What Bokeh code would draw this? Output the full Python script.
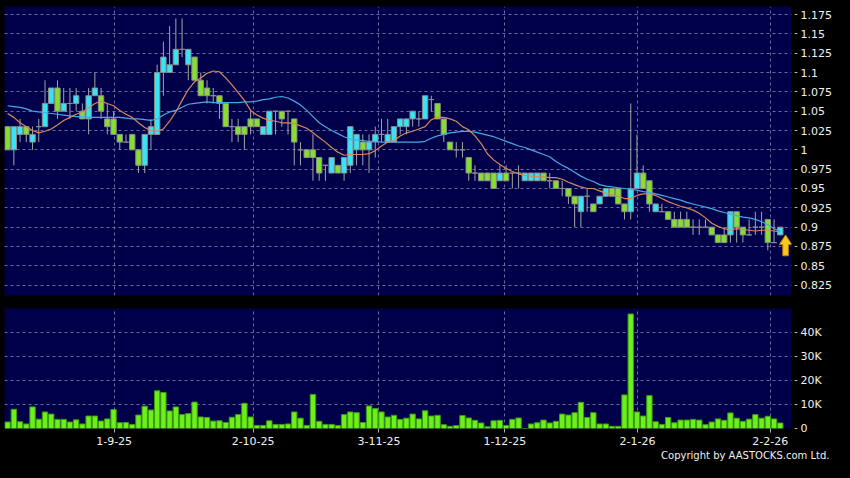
from bokeh.plotting import figure
from bokeh.layouts import column
from bokeh.models import ColumnDataSource, FixedTicker, Range1d, Title, GlobalInlineStyleSheet
from bokeh.embed import file_html
from bokeh.resources import INLINE

# ---------------- data ----------------
opens = [1.03, 1.00, 1.02, 1.03, 1.01, 1.03, 1.03, 1.06, 1.08, 1.05,
         1.06, 1.06, 1.05, 1.04, 1.07, 1.07, 1.04, 1.04, 1.02, 1.01,
         1.02, 1.00, 0.98, 1.02, 1.02, 1.10, 1.10, 1.11, 1.13, 1.11,
         1.12, 1.09, 1.08, 1.07, 1.07, 1.06, 1.03, 1.03, 1.03, 1.04,
         1.04, 1.02, 1.02, 1.05, 1.05, 1.05, 1.04, 1.00, 1.00, 1.00,
         0.99, 0.98, 0.97, 0.98, 0.97, 0.98, 1.00, 1.01, 1.00, 1.01,
         1.02, 1.01, 1.01, 1.03, 1.03, 1.04, 1.04, 1.04, 1.065, 1.06,
         1.04, 1.01, 1.00, 1.00, 0.99, 0.97, 0.97, 0.97, 0.97, 0.96,
         0.97, 0.97, 0.97, 0.96, 0.96, 0.96, 0.97, 0.96, 0.96, 0.95,
         0.95, 0.94, 0.92, 0.94, 0.93, 0.93, 0.94, 0.95, 0.95, 0.93,
         0.92, 0.95, 0.97, 0.96, 0.92, 0.92, 0.92, 0.91, 0.91, 0.91,
         0.90, 0.90, 0.90, 0.90, 0.89, 0.89, 0.89, 0.92, 0.90, 0.89,
         0.90, 0.90, 0.91, 0.88, 0.89]
highs = [1.03, 1.03, 1.04, 1.03, 1.03, 1.04, 1.09, 1.08, 1.09, 1.08,
         1.08, 1.08, 1.06, 1.08, 1.10, 1.08, 1.06, 1.05, 1.02, 1.02,
         1.02, 1.00, 1.02, 1.04, 1.11, 1.14, 1.16, 1.17, 1.17, 1.13,
         1.12, 1.10, 1.09, 1.08, 1.07, 1.06, 1.04, 1.04, 1.03, 1.05,
         1.04, 1.03, 1.05, 1.05, 1.05, 1.05, 1.04, 1.01, 1.00, 1.02,
         0.99, 0.98, 0.99, 0.98, 0.99, 1.03, 1.02, 1.02, 1.02, 1.03,
         1.04, 1.04, 1.03, 1.04, 1.04, 1.05, 1.05, 1.07, 1.07, 1.06,
         1.04, 1.01, 1.01, 1.01, 0.99, 0.98, 0.97, 0.97, 0.97, 0.98,
         0.98, 0.97, 0.98, 0.97, 0.97, 0.97, 0.97, 0.97, 0.96, 0.96,
         0.95, 0.94, 0.94, 0.95, 0.93, 0.94, 0.95, 0.95, 0.95, 0.93,
         1.06, 1.02, 0.98, 0.96, 0.93, 0.93, 0.92, 0.92, 0.92, 0.92,
         0.91, 0.91, 0.91, 0.90, 0.89, 0.90, 0.92, 0.92, 0.90, 0.91,
         0.92, 0.92, 0.91, 0.91, 0.90]
lows = [1.00, 0.98, 1.01, 1.01, 1.00, 1.01, 1.03, 1.06, 1.04, 1.05,
        1.04, 1.05, 1.04, 1.02, 1.07, 1.04, 1.02, 1.02, 1.00, 1.01,
        1.00, 0.97, 0.97, 1.00, 1.02, 1.07, 1.10, 1.11, 1.12, 1.09,
        1.09, 1.07, 1.06, 1.06, 1.04, 1.03, 1.01, 1.01, 1.00, 1.02,
        1.03, 1.02, 1.02, 1.02, 1.03, 1.02, 0.98, 0.98, 0.99, 0.96,
        0.96, 0.96, 0.97, 0.97, 0.96, 0.97, 0.98, 0.98, 0.97, 0.99,
        1.01, 1.01, 1.01, 1.02, 1.02, 1.03, 1.03, 1.04, 1.05, 1.04,
        1.01, 1.00, 0.99, 0.99, 0.96, 0.96, 0.96, 0.96, 0.95, 0.96,
        0.96, 0.95, 0.95, 0.96, 0.96, 0.96, 0.96, 0.95, 0.95, 0.94,
        0.93, 0.90, 0.90, 0.92, 0.92, 0.93, 0.94, 0.94, 0.93, 0.91,
        0.91, 0.95, 0.95, 0.92, 0.92, 0.92, 0.91, 0.90, 0.90, 0.90,
        0.89, 0.89, 0.90, 0.89, 0.88, 0.88, 0.88, 0.88, 0.88, 0.89,
        0.89, 0.89, 0.87, 0.88, 0.89]
closes = [1.00, 1.03, 1.03, 1.02, 1.02, 1.03, 1.06, 1.08, 1.05, 1.06,
          1.06, 1.07, 1.04, 1.07, 1.08, 1.05, 1.03, 1.02, 1.01, 1.01,
          1.00, 0.98, 1.02, 1.03, 1.10, 1.12, 1.11, 1.13, 1.13, 1.13,
          1.09, 1.07, 1.07, 1.07, 1.06, 1.03, 1.03, 1.02, 1.02, 1.03,
          1.03, 1.03, 1.05, 1.05, 1.04, 1.05, 1.01, 1.00, 0.99, 0.99,
          0.97, 0.98, 0.99, 0.97, 0.99, 1.03, 1.02, 1.00, 1.01, 1.02,
          1.02, 1.02, 1.03, 1.04, 1.04, 1.05, 1.04, 1.07, 1.065, 1.04,
          1.02, 1.00, 1.00, 1.00, 0.97, 0.97, 0.96, 0.96, 0.95, 0.97,
          0.96, 0.97, 0.97, 0.97, 0.97, 0.97, 0.96, 0.96, 0.95, 0.95,
          0.94, 0.93, 0.94, 0.94, 0.92, 0.94, 0.95, 0.94, 0.93, 0.92,
          0.95, 0.97, 0.95, 0.93, 0.93, 0.92, 0.91, 0.90, 0.90, 0.90,
          0.90, 0.90, 0.90, 0.89, 0.88, 0.88, 0.92, 0.90, 0.89, 0.89,
          0.90, 0.90, 0.88, 0.88, 0.90]
volume_k = [2.7, 8, 2.8, 1.9, 9, 3.9, 6.9, 6, 3.8, 3.8,
            2.7, 3.6, 1.9, 5.2, 5.2, 3.1, 4, 7.9, 2.4, 2.5,
            1.7, 5.6, 9.3, 7.7, 15.7, 15, 7.3, 9, 5.8, 6.2,
            11, 4.8, 4.6, 3.1, 3.2, 2.5, 4.7, 5.8, 10.5, 4.8,
            1.3, 1.3, 3.2, 1.7, 1.7, 1.9, 6.9, 4.3, 1.3, 14.2,
            3, 1.7, 1.7, 1.2, 5.8, 6.9, 6.6, 2.5, 9.4, 8.3,
            6.9, 4.8, 5.5, 3.8, 4.3, 6, 4, 7.4, 5.2, 5.5,
            1.6, 0.9, 1.2, 5.4, 4.4, 3.4, 2.3, 0.7, 3.2, 3.4,
            1.3, 3.8, 4.4, 0, 1.9, 2.4, 3.5, 2.3, 3, 6,
            5.6, 6.6, 10.9, 4.6, 6.6, 1.9, 1.9, 0.9, 0.9, 14,
            47.7, 6.9, 5.2, 13.7, 2.8, 1.7, 4.6, 2.4, 3.5, 3.5,
            3.8, 3.5, 1.6, 2.7, 4, 3.4, 6.5, 4.3, 3, 3.9,
            5.8, 4.3, 5.1, 4, 2.3]
ma_short = [1.047, 1.042, 1.035, 1.030, 1.025, 1.022, 1.024, 1.027, 1.032, 1.038,
            1.042, 1.046, 1.049, 1.054, 1.060, 1.063, 1.060, 1.057, 1.051, 1.046,
            1.042, 1.035, 1.029, 1.025, 1.024, 1.027, 1.037, 1.049, 1.064, 1.078,
            1.088, 1.093, 1.099, 1.102, 1.101, 1.093, 1.084, 1.074, 1.064, 1.051,
            1.045, 1.041, 1.038, 1.037, 1.035, 1.035, 1.034, 1.031, 1.028, 1.022,
            1.016, 1.010, 1.003, 0.997, 0.993, 0.994, 0.994, 0.994, 0.995, 0.999,
            1.005, 1.010, 1.012, 1.018, 1.022, 1.024, 1.027, 1.030, 1.039, 1.042,
            1.042, 1.040, 1.037, 1.030, 1.026, 1.018, 1.008, 0.995, 0.987, 0.981,
            0.976, 0.972, 0.969, 0.967, 0.966, 0.965, 0.965, 0.964, 0.964, 0.962,
            0.958, 0.955, 0.952, 0.950, 0.950, 0.947, 0.944, 0.942, 0.940, 0.937,
            0.937, 0.941, 0.943, 0.943, 0.941, 0.937, 0.933, 0.930, 0.927, 0.925,
            0.922, 0.918, 0.912, 0.905, 0.901, 0.898, 0.896, 0.898, 0.897, 0.896,
            0.895, 0.896, 0.896, 0.895, 0.894]
ma_long = [1.057, 1.056, 1.055, 1.053, 1.050, 1.049, 1.048, 1.047, 1.046, 1.045,
           1.044, 1.043, 1.043, 1.042, 1.042, 1.042, 1.042, 1.042, 1.042, 1.041,
           1.040, 1.040, 1.039, 1.038, 1.040, 1.045, 1.049, 1.051, 1.055, 1.059,
           1.060, 1.061, 1.062, 1.061, 1.061, 1.061, 1.061, 1.061, 1.062, 1.062,
           1.063, 1.065, 1.066, 1.068, 1.069, 1.067, 1.063, 1.058, 1.051, 1.043,
           1.035, 1.030, 1.025, 1.021, 1.017, 1.014, 1.013, 1.012, 1.011, 1.011,
           1.010, 1.010, 1.010, 1.010, 1.010, 1.010, 1.010, 1.011, 1.015, 1.018,
           1.020, 1.022, 1.023, 1.024, 1.024, 1.023, 1.021, 1.019, 1.017, 1.014,
           1.011, 1.008, 1.005, 1.003, 1.000, 0.997, 0.994, 0.991, 0.985, 0.980,
           0.976, 0.971, 0.966, 0.962, 0.959, 0.955, 0.953, 0.952, 0.951, 0.950,
           0.949, 0.948, 0.946, 0.945, 0.943, 0.941, 0.939, 0.937, 0.935, 0.932,
           0.930, 0.928, 0.926, 0.924, 0.921, 0.919, 0.917, 0.915, 0.913, 0.912,
           0.910, 0.907, 0.903, 0.898, 0.895]

price_ticks = [0.825, 0.85, 0.875, 0.9, 0.925, 0.95, 0.975, 1.0,
               1.025, 1.05, 1.075, 1.1, 1.125, 1.15, 1.175]
price_tick_labels = ["0.825", "0.85", "0.875", "0.9", "0.925", "0.95", "0.975", "1",
                     "1.025", "1.05", "1.075", "1.1", "1.125", "1.15", "1.175"]
vol_ticks = [0, 10000, 20000, 30000, 40000]
vol_tick_labels = ["0", "10K", "20K", "30K", "40K"]
date_tick_pos = [17.1, 39.4, 59.6, 79.8, 101.1, 122.4]
date_tick_labels = ["1-9-25", "2-10-25", "3-11-25", "1-12-25", "2-1-26", "2-2-26"]

# ---------------- styling ----------------
BG = "#000000"
NAVY = "#00004a"
GRID = "#6a6a9c"
UP = "#36e4f4"
DOWN = "#84e02c"
EDGE = "#8c8c8c"
WICK = "#a4a4a4"
VOL = "#6cf01c"
VOL_EDGE = "#3e9a12"
TXT = "#f0f0f0"
FONT = "DejaVu Sans"

n = len(closes)
xs = list(range(n))
colors = [UP if c >= o else DOWN for o, c in zip(opens, closes)]
src = ColumnDataSource(dict(
    x=xs, o=opens, h=highs, l=lows, c=closes,
    top=[max(o, c) for o, c in zip(opens, closes)],
    bot=[min(o, c) for o, c in zip(opens, closes)],
    color=colors,
    vol=[v * 1000 for v in volume_k],
    ma1=ma_short, ma2=ma_long,
))

W = 834
x_range = Range1d(-0.5, 125.8)

# ---------------- price panel ----------------
p1 = figure(width=W, height=301, x_range=x_range, y_range=Range1d(0.8116, 1.1854),
            y_axis_location="right",
            output_backend="svg", toolbar_location=None,
            background_fill_color=NAVY, border_fill_color=BG,
            min_border_left=4, min_border_right=42, min_border_top=6, min_border_bottom=6)
p1.outline_line_color = None
p1.xaxis.visible = False
p1.xaxis.ticker = FixedTicker(ticks=date_tick_pos)
p1.xgrid.ticker = FixedTicker(ticks=date_tick_pos)
p1.yaxis.ticker = FixedTicker(ticks=price_ticks)
p1.yaxis.major_label_overrides = dict(zip(price_ticks, price_tick_labels))

p1.segment(x0="x", y0="l", x1="x", y1="h", source=src, line_color=WICK, line_width=1)
p1.vbar(x="x", top="top", bottom="bot", width=0.86, source=src,
        fill_color="color", line_color=EDGE, line_width=1)
p1.line(x="x", y="ma2", source=src, line_color="#48a8e4", line_width=1.2)
p1.line(x="x", y="ma1", source=src, line_color="#d8885a", line_width=1.2)

# marker arrow under the latest bar
xa = xs[-1] + 0.85
tip = lows[-1]
arrow_x = [xa, xa + 1.0, xa + 0.45, xa + 0.45, xa - 0.45, xa - 0.45, xa - 1.0]
arrow_y = [tip, tip - 0.0125, tip - 0.0125, tip - 0.027, tip - 0.027, tip - 0.0125, tip - 0.0125]
p1.patch(arrow_x, arrow_y, fill_color="#f8c81e", line_color="#b88200", line_width=1)

# ---------------- volume panel ----------------
p2 = figure(width=W, height=161, x_range=x_range, y_range=Range1d(0, 50000),
            y_axis_location="right",
            output_backend="svg", toolbar_location=None,
            background_fill_color=NAVY, border_fill_color=BG,
            min_border_left=4, min_border_right=42, min_border_top=7, min_border_bottom=34)
p2.outline_line_color = None
p2.vbar(x="x", top="vol", bottom=0, width=0.86, source=src,
        fill_color=VOL, line_color=VOL_EDGE, line_width=1)
p2.yaxis.ticker = FixedTicker(ticks=vol_ticks)
p2.yaxis.major_label_overrides = dict(zip(vol_ticks, vol_tick_labels))
p2.xaxis.ticker = FixedTicker(ticks=date_tick_pos)
p2.xgrid.ticker = FixedTicker(ticks=date_tick_pos)
p2.xaxis.major_label_overrides = dict(zip(date_tick_pos, date_tick_labels))

for p in (p1, p2):
    for g in (p.xgrid, p.ygrid):
        g.grid_line_color = GRID
        g.grid_line_dash = "3 3"
        g.grid_line_width = 1

for ax in (p1.yaxis[0], p2.yaxis[0], p2.xaxis[0]):
    ax.axis_line_color = None
    ax.minor_tick_line_color = None
    ax.major_tick_line_color = "#b0b0b0"
    ax.major_label_text_color = TXT
    ax.major_label_text_font = FONT
    ax.major_label_text_font_size = "11px"
for ax in (p1.yaxis[0], p2.yaxis[0]):
    ax.major_tick_in = -3
    ax.major_tick_out = 6
    ax.major_label_standoff = 3
p2.xaxis.major_tick_in = 0
p2.xaxis.major_tick_out = 4
p2.xaxis.major_label_standoff = 4

p2.add_layout(Title(text="Copyright by AASTOCKS.com Ltd.", align="right",
                    text_color=TXT, text_font=FONT, text_font_size="10px",
                    text_font_style="normal", standoff=0, offset=-38), "below")

layout = column(p1, p2, spacing=0,
                stylesheets=[GlobalInlineStyleSheet(css="body { background: #000000; }")])

open("out.html", "w").write(file_html(layout, INLINE))
